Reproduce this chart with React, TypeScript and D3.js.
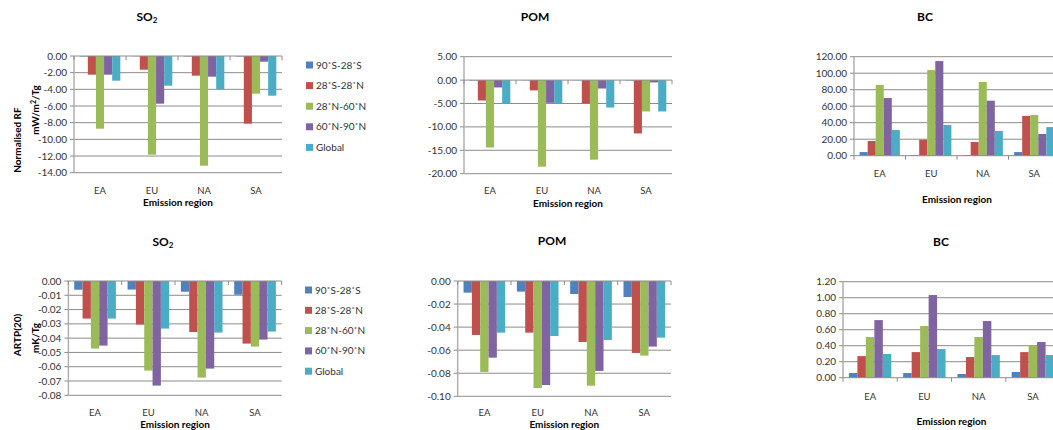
import React, { useEffect, useRef } from 'react';
import * as d3 from 'd3';

const regions = ['EA', 'EU', 'NA', 'SA'];
const latBands = ['90˚S-28˚S', '28˚S-28˚N', '28˚N-60˚N', '60˚N-90˚N', 'Global'];
const colors = ['#4F81BD', '#C0504D', '#9BBB59', '#8064A2', '#4BACC6'];

// one row per emission region, one value per latitude band
const so2Rf = [
  [-0.06, -2.24, -8.72, -2.24, -2.96],
  [-0.03, -1.64, -11.84, -5.72, -3.56],
  [-0.06, -2.36, -13.16, -2.48, -3.96],
  [-0.06, -8.12, -4.52, -0.68, -4.76],
];
const pomRf = [
  [-0.1, -4.36, -14.4, -1.57, -5.0],
  [-0.05, -2.2, -18.5, -4.86, -5.0],
  [-0.05, -5.0, -17.0, -1.8, -5.86],
  [-0.1, -11.4, -6.7, -0.5, -6.7],
];
const bcRf = [
  [4.4, 17.8, 85.7, 69.9, 31.1],
  [0.8, 19.4, 103.8, 114.7, 37.2],
  [0.8, 16.6, 89.3, 66.7, 29.9],
  [4.4, 48.1, 49.3, 26.3, 34.7],
];
const so2Artp = [
  [-0.0061, -0.0263, -0.0473, -0.0452, -0.0263],
  [-0.006, -0.0305, -0.0627, -0.0732, -0.0333],
  [-0.0075, -0.0357, -0.0676, -0.0613, -0.0361],
  [-0.0096, -0.0438, -0.0459, -0.041, -0.0354],
];
const pomArtp = [
  [-0.0101, -0.0468, -0.0789, -0.0665, -0.0448],
  [-0.0092, -0.0448, -0.0928, -0.0902, -0.0477],
  [-0.0113, -0.0529, -0.0908, -0.078, -0.0512],
  [-0.0139, -0.0624, -0.0647, -0.0569, -0.0491],
];
const bcArtp = [
  [0.058, 0.27, 0.508, 0.72, 0.296],
  [0.058, 0.32, 0.646, 1.033, 0.358],
  [0.046, 0.258, 0.508, 0.708, 0.283],
  [0.071, 0.32, 0.396, 0.446, 0.283],
];

interface Panel {
  title: string;
  sub?: string;
  values: number[][];
  domain: [number, number];
  step: number;
  x: [number, number];
  y: [number, number];
  titlePos: [number, number];
  catY: number;
  xTitleY: number;
}

const panels: Panel[] = [
  { title: 'SO', sub: '2', values: so2Rf, domain: [-14, 0], step: 2, x: [74, 282], y: [172.7, 56], titlePos: [147, 17], catY: 191, xTitleY: 202 },
  { title: 'POM', values: pomRf, domain: [-20, 5], step: 5, x: [464, 672], y: [173.7, 56.7], titlePos: [535, 17], catY: 191, xTitleY: 203 },
  { title: 'BC', values: bcRf, domain: [0, 120], step: 20, x: [854, 1060], y: [155.7, 56.7], titlePos: [925, 17], catY: 174, xTitleY: 199 },
  { title: 'SO', sub: '2', values: so2Artp, domain: [-0.08, 0], step: 0.01, x: [68.4, 281.7], y: [395.3, 281], titlePos: [163, 242], catY: 413, xTitleY: 424 },
  { title: 'POM', values: pomArtp, domain: [-0.1, 0], step: 0.02, x: [457.7, 671], y: [396.3, 281], titlePos: [552, 241], catY: 412.5, xTitleY: 424 },
  { title: 'BC', values: bcArtp, domain: [0, 1.2], step: 0.2, x: [843, 1060], y: [377.7, 281.7], titlePos: [941, 242], catY: 397, xTitleY: 421 },
];

const FONT = 'Lato, "Open Sans", sans-serif';

const App: React.FC = () => {
  const svgRef = useRef<SVGSVGElement>(null);

  useEffect(() => {
    if (!svgRef.current) return;
    const svg = d3.select(svgRef.current);
    svg.selectAll('*').remove();
    svg.style('font-family', FONT);

    panels.forEach(p => {
      const g = svg.append('g');
      const xScale = d3.scaleBand<string>().domain(regions).range(p.x);
      const inner = d3.scaleBand<string>()
        .domain(latBands)
        .range([0, xScale.bandwidth()])
        .paddingOuter(0.7);
      const yScale = d3.scaleLinear().domain(p.domain).range(p.y);

      const n = Math.round((p.domain[1] - p.domain[0]) / p.step);
      const ticks = d3.range(n + 1).map(i => +(p.domain[0] + i * p.step).toFixed(6));

      // gridlines
      g.selectAll('.grid')
        .data(ticks.filter(t => t !== 0))
        .enter().append('line')
        .attr('x1', p.x[0]).attr('x2', p.x[1])
        .attr('y1', d => yScale(d)).attr('y2', d => yScale(d))
        .attr('stroke', '#8c8c8c').attr('stroke-width', 1);

      // y axis line and ticks
      g.append('line')
        .attr('x1', p.x[0]).attr('x2', p.x[0])
        .attr('y1', p.y[0]).attr('y2', p.y[1])
        .attr('stroke', '#b0b0b0').attr('stroke-width', 1.5);
      g.selectAll('.ytick')
        .data(ticks)
        .enter().append('line')
        .attr('x1', p.x[0] - 4).attr('x2', p.x[0])
        .attr('y1', d => yScale(d)).attr('y2', d => yScale(d))
        .attr('stroke', '#8c8c8c');
      g.selectAll('.ylabel')
        .data(ticks)
        .enter().append('text')
        .attr('x', p.x[0] - 7)
        .attr('y', d => yScale(d))
        .attr('dy', '0.35em')
        .attr('text-anchor', 'end')
        .style('font-size', '10px')
        .attr('fill', '#333')
        .text(d => d.toFixed(2));

      // bars
      regions.forEach((r, ri) => {
        latBands.forEach((b, bi) => {
          const v = p.values[ri][bi];
          const x = (xScale(r) as number) + (inner(b) as number);
          g.append('rect')
            .attr('x', x)
            .attr('width', inner.bandwidth())
            .attr('y', Math.min(yScale(v), yScale(0)))
            .attr('height', Math.abs(yScale(v) - yScale(0)))
            .attr('fill', colors[bi]);
        });
      });

      // category axis at zero
      const y0 = yScale(0);
      g.append('line')
        .attr('x1', p.x[0]).attr('x2', p.x[1])
        .attr('y1', y0).attr('y2', y0)
        .attr('stroke', '#8c8c8c');
      g.selectAll('.xtick')
        .data(d3.range(regions.length + 1))
        .enter().append('line')
        .attr('x1', i => p.x[0] + i * xScale.step())
        .attr('x2', i => p.x[0] + i * xScale.step())
        .attr('y1', y0).attr('y2', y0 + 4)
        .attr('stroke', '#8c8c8c');
      g.selectAll('.xlabel')
        .data(regions)
        .enter().append('text')
        .attr('x', d => (xScale(d) as number) + xScale.bandwidth() / 2)
        .attr('y', p.catY)
        .attr('dy', '0.35em')
        .attr('text-anchor', 'middle')
        .style('font-size', '9.5px')
        .attr('fill', '#333')
        .text(d => d);

      g.append('text')
        .attr('x', (p.x[0] + p.x[1]) / 2)
        .attr('y', p.xTitleY)
        .attr('dy', '0.35em')
        .attr('text-anchor', 'middle')
        .style('font-size', '10px')
        .style('font-weight', 'bold')
        .text('Emission region');

      const t = g.append('text')
        .attr('x', p.titlePos[0])
        .attr('y', p.titlePos[1])
        .attr('dy', '0.35em')
        .attr('text-anchor', 'middle')
        .style('font-size', '12px')
        .style('font-weight', 'bold')
        .text(p.title);
      if (p.sub) {
        t.append('tspan')
          .attr('dy', 2)
          .style('font-size', '8px')
          .text(p.sub);
      }
    });

    // y axis titles
    const yTitle = (x: number, y: number, text: string, sup?: [string, string]) => {
      const t = svg.append('text')
        .attr('transform', `translate(${x},${y}) rotate(-90)`)
        .attr('dy', '0.35em')
        .attr('text-anchor', 'middle')
        .style('font-size', '10px')
        .style('font-weight', 'bold')
        .text(text);
      if (sup) {
        t.append('tspan').attr('dy', -3).style('font-size', '7px').text(sup[0]);
        t.append('tspan').attr('dy', 3).text(sup[1]);
      }
    };
    yTitle(17, 140, 'Normalised RF');
    yTitle(35, 110, 'mW/m', ['2', '/Tg']);
    yTitle(17, 335, 'ARTP(20)');
    yTitle(35, 338, 'mK/Tg');

    // legends
    [[306, 65, 20.6], [305, 290, 20.3]].forEach(([lx, ly, gap]) => {
      const legend = svg.append('g').attr('transform', `translate(${lx},${ly})`);
      latBands.forEach((b, i) => {
        const row = legend.append('g').attr('transform', `translate(0,${i * gap})`);
        row.append('rect')
          .attr('x', 0).attr('y', -3.5)
          .attr('width', 7).attr('height', 7)
          .attr('fill', colors[i]);
        row.append('text')
          .attr('x', 10)
          .attr('dy', '0.35em')
          .style('font-size', '10px')
          .attr('fill', '#333')
          .text(b);
      });
    });
  }, []);

  return (
    <svg
      ref={svgRef}
      width={1053}
      height={430}
      style={{ position: 'absolute', left: 0, top: 0, background: '#fff' }}
    />
  );
};

export default App;
